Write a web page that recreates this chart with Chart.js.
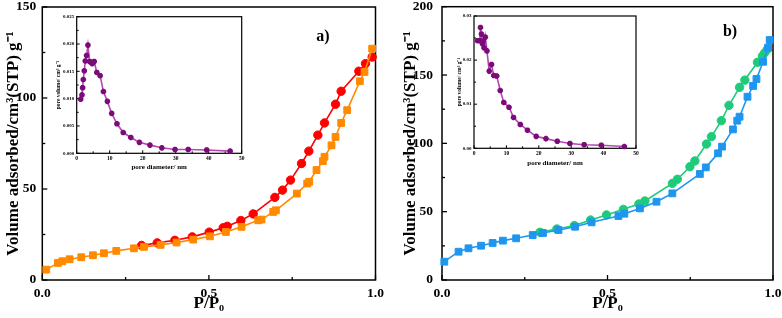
<!DOCTYPE html>
<html>
<head>
<meta charset="utf-8">
<script src="https://cdn.jsdelivr.net/npm/chart.js@4/dist/chart.umd.min.js"></script>
<style>
  html, body { margin: 0; padding: 0; background: #ffffff; overflow: hidden; }
  body { width: 782px; height: 318px; position: relative; }
  canvas { position: absolute; }
</style>
</head>
<body>
<canvas id="mainA" width="390" height="318" style="left:0px;top:0px"></canvas>
<canvas id="mainB" width="390" height="318" style="left:392px;top:0px"></canvas>
<canvas id="insetA" width="200" height="165" style="left:50px;top:10px"></canvas>
<canvas id="insetB" width="200" height="165" style="left:446px;top:10px"></canvas>
<script>
// ---------------- DATA ----------------
// Panel a) isotherm
const aAdsP = [0.012,0.047,0.06,0.082,0.117,0.152,0.185,0.222,0.275,0.305,0.355,0.403,0.453,0.503,0.551,0.598,0.648,0.658,0.693,0.701,0.764,0.795,0.801,0.823,0.842,0.847,0.868,0.88,0.897,0.915,0.953,0.967,0.99];
const aAdsV = [5.7,9.4,10.3,11.4,12.5,13.6,14.7,16.0,17.4,18.2,19.3,20.6,22.2,24.0,26.4,29.2,32.8,33.2,37.4,38.3,47.5,53,54,60.4,65.3,67.7,74,78.6,86.3,93.3,109.2,114.3,127.1];
const aDesP = [0.99,0.97,0.95,0.897,0.88,0.847,0.827,0.8,0.778,0.745,0.721,0.698,0.633,0.596,0.555,0.543,0.501,0.45,0.398,0.345,0.298];
const aDesV = [122.5,118.9,114.7,103.7,96.6,86.3,79.6,70.8,64,54.9,49.4,45.4,36.3,32.7,29.5,28.7,26.3,23.7,21.8,20.4,19.0];
// Panel b) isotherm
const bAdsP = [0.007,0.05,0.08,0.118,0.153,0.184,0.224,0.274,0.305,0.352,0.402,0.452,0.533,0.551,0.598,0.648,0.696,0.779,0.797,0.834,0.846,0.879,0.892,0.899,0.923,0.94,0.95,0.97,0.985,0.99];
const bAdsV = [13.4,20.7,23.2,25.1,27.1,28.8,30.5,32.9,34.4,36.6,39.0,42.2,46.8,48.5,52.4,57.3,63.4,77.6,82.4,92.7,97.6,110.2,116.6,119.5,134.1,142,147.1,159.7,170,175.6];
const bDesP = [0.983,0.975,0.968,0.953,0.915,0.899,0.867,0.844,0.814,0.799,0.764,0.749,0.711,0.696,0.613,0.595,0.548,0.497,0.449,0.4,0.347,0.296];
const bDesV = [168.8,166.3,163.9,159.3,146.3,141,127.8,116.6,104.9,99.5,87.1,82.9,73.7,70.7,57.8,55.6,51.7,47.6,43.9,39.8,37.3,34.9];
// Insets: pore size distribution
const aPoreD = [1.2,1.6,1.8,2.0,2.3,2.6,3.0,3.4,3.9,4.3,4.7,5.3,6.1,7.1,8.1,9.3,10.6,12.2,14.1,16.4,19.0,22.2,25.8,29.8,33.8,39.4,46.5];
const aPoreV = [0.0099,0.0107,0.0120,0.0135,0.0151,0.0169,0.0179,0.0198,0.0168,0.0167,0.0164,0.0168,0.0148,0.0142,0.0113,0.0095,0.0073,0.0054,0.0038,0.0029,0.0020,0.0015,0.0010,0.0007,0.0007,0.0006,0.0004];
const bPoreD = [1.1,1.8,2.0,2.3,2.6,2.8,3.1,3.5,4.0,4.7,5.4,6.1,7.0,8.1,9.2,10.8,12.2,14.3,16.5,19.2,22.2,25.7,29.6,34.0,39.3,46.4];
const bPoreV = [0.0244,0.0244,0.0274,0.0259,0.0237,0.0243,0.0228,0.0252,0.0221,0.0175,0.0190,0.0165,0.0164,0.0131,0.0104,0.0093,0.0070,0.0054,0.0041,0.0027,0.0022,0.0016,0.0011,0.0008,0.0007,0.0004];
// Tick labels
const mainXTicks = [0, 0.5, 1.0];
const aYTicks = [0, 50, 100, 150];
const bYTicks = [0, 50, 100, 150, 200];
const insetXTicks = [0, 10, 20, 30, 40, 50];
const aInsetYTicks = [0, 0.005, 0.010, 0.015, 0.020, 0.025];
const bInsetYTicks = [0, 0.01, 0.02, 0.03];
// Texts
const mainXTitle = 'P/P\u2080';
const mainYTitle = 'Volume adsorbed/cm\u00B3(STP) g\u207B\u00B9';
const insetXTitle = 'pore diameter/ nm';
const insetYTitle = 'pore volume/ cm\u00B3 g\u207B\u00B9';
const panelLabels = ['a)', 'b)'];

// ---------------- HELPERS ----------------
const FONT = "'Liberation Serif', 'Times New Roman', serif";
const pts = (xs, ys) => xs.map((x, i) => ({ x: x, y: ys[i] }));
const fixX = h => s => { s.height = h; s.paddingLeft = 0; s.paddingRight = 0; };
const fixY = w => s => { s.width = w; s.paddingTop = 0; s.paddingBottom = 0; };
const setTicks = arr => s => { s.ticks = arr.map(v => ({ value: v })); };

const framePlugin = {
  id: 'frame',
  beforeDatasetsDraw(chart, args, o) {
    const ca = chart.chartArea, ctx = chart.ctx;
    ctx.save();
    ctx.strokeStyle = '#000';
    ctx.lineWidth = o.lw || 1.5;
    ctx.strokeRect(ca.left, ca.top, ca.right - ca.left, ca.bottom - ca.top);
    const xs = chart.scales.x, ys = chart.scales.y;
    ctx.lineWidth = o.tw || 1.2;
    const xt = xs.ticks.map(t => t.value), yt = ys.ticks.map(t => t.value);
    const drawX = (v, len) => { const p = xs.getPixelForValue(v); ctx.beginPath(); ctx.moveTo(p, ca.bottom); ctx.lineTo(p, ca.bottom - len); ctx.stroke(); };
    const drawY = (v, len) => { const p = ys.getPixelForValue(v); ctx.beginPath(); ctx.moveTo(ca.left, p); ctx.lineTo(ca.left + len, p); ctx.stroke(); };
    xt.forEach((v, i) => { drawX(v, o.major); if (i < xt.length - 1) drawX((v + xt[i + 1]) / 2, o.minor); });
    yt.forEach((v, i) => { drawY(v, o.major); if (i < yt.length - 1) drawY((v + yt[i + 1]) / 2, o.minor); });
    ctx.restore();
  },
  afterDraw(chart, args, o) {
    if (!o.label) return;
    const ctx = chart.ctx;
    ctx.save();
    ctx.font = 'bold 16px ' + FONT;
    ctx.fillStyle = '#000';
    ctx.textAlign = 'center';
    ctx.textBaseline = 'middle';
    ctx.fillText(o.label, o.lx, o.ly);
    ctx.restore();
  }
};

function mainChart(id, cfg) {
  return new Chart(document.getElementById(id), {
    type: 'line',
    data: { datasets: cfg.datasets },
    options: {
      responsive: false,
      animation: false,
      layout: { padding: cfg.padding },
      plugins: {
        legend: { display: false },
        tooltip: { enabled: false },
        frame: { major: 5, minor: 3, lw: 1.5, tw: 1.3, label: cfg.label, lx: cfg.lx, ly: cfg.ly }
      },
      elements: { line: { tension: 0 } },
      scales: {
        x: {
          type: 'linear', min: 0, max: 1,
          afterFit: fixX(38),
          afterBuildTicks: setTicks(mainXTicks),
          grid: { display: false, drawTicks: false },
          border: { display: false },
          ticks: { padding: 5, color: '#000', font: { family: FONT, size: 13.5, weight: 'bold' }, callback: v => Number(v).toFixed(1) },
          title: { display: true, text: mainXTitle, color: '#000', padding: { top: 0, bottom: 4 }, font: { family: FONT, size: 17, weight: 'bold' } }
        },
        y: {
          type: 'linear', min: 0, max: cfg.ymax,
          afterFit: fixY(cfg.yw),
          afterBuildTicks: setTicks(cfg.yticks),
          grid: { display: false, drawTicks: false },
          border: { display: false },
          ticks: { padding: cfg.ypad, color: '#000', font: { family: FONT, size: 13.5, weight: 'bold' } },
          title: { display: true, text: mainYTitle, color: '#000', padding: { top: cfg.ytpad, bottom: 0 }, font: { family: FONT, size: 17, weight: 'bold' } }
        }
      }
    },
    plugins: [framePlugin]
  });
}

function series(xs, ys, color, style, r) {
  return {
    data: pts(xs, ys), borderColor: color, backgroundColor: color,
    borderWidth: 1.6, pointStyle: style, pointRadius: r, pointBorderWidth: 1,
    pointBorderColor: color, pointBackgroundColor: color, clip: false, fill: false
  };
}

mainChart('mainA', {
  padding: { left: 0, right: 14.5, top: 7, bottom: 0 },
  yw: 42.3, ymax: 150, yticks: aYTicks, ypad: 6, ytpad: 3,
  label: panelLabels[0], lx: 323, ly: 37,
  datasets: [
    series(aAdsP, aAdsV, '#FF8A00', 'rect', 4.8),
    series(aDesP, aDesV, '#FF0000', 'circle', 4.2)
  ]
});

mainChart('mainB', {
  padding: { left: 5, right: 9, top: 6.7, bottom: 0 },
  yw: 45, ymax: 200, yticks: bYTicks, ypad: 9, ytpad: 3,
  label: panelLabels[1], lx: 338, ly: 32,
  datasets: [
    series(bAdsP, bAdsV, '#1E96F0', 'rect', 4.8),
    series(bDesP, bDesV, '#1FCB7A', 'circle', 4.2)
  ]
});

function insetChart(id, cfg) {
  return new Chart(document.getElementById(id), {
    type: 'line',
    data: { datasets: [{
      data: pts(cfg.xs, cfg.ys), borderColor: '#B548B5', backgroundColor: '#7A0C7A',
      borderWidth: 1.6, pointStyle: 'star', pointRadius: 2.8, pointBorderWidth: 1.9,
      pointBorderColor: '#7A0C7A', pointBackgroundColor: '#7A0C7A', clip: false, fill: false
    }] },
    options: {
      responsive: false,
      animation: false,
      layout: { padding: cfg.padding },
      plugins: { legend: { display: false }, tooltip: { enabled: false }, frame: { major: 3, minor: 2, lw: 1.2, tw: 1 } },
      elements: { line: { tension: 0 } },
      scales: {
        x: {
          type: 'linear', min: 0, max: 50,
          afterFit: fixX(cfg.xh),
          afterBuildTicks: setTicks(insetXTicks),
          grid: { display: false, drawTicks: false },
          border: { display: false },
          ticks: { padding: 2, color: '#000', font: { family: FONT, size: 5.5, weight: 'bold' } },
          title: { display: true, text: insetXTitle, color: '#000', padding: { top: 0, bottom: cfg.xtpad }, font: { family: FONT, size: 7, weight: 'bold' } }
        },
        y: {
          type: 'linear', min: 0, max: cfg.ymax,
          afterFit: fixY(cfg.yw),
          afterBuildTicks: setTicks(cfg.yticks),
          grid: { display: false, drawTicks: false },
          border: { display: false },
          ticks: { padding: 2.5, color: '#000', font: { family: FONT, size: 5, weight: 'bold' }, callback: v => Number(v).toFixed(cfg.dec) },
          title: { display: true, text: insetYTitle, color: '#000', padding: { top: cfg.ytpad, bottom: 0 }, font: { family: FONT, size: 5.5, weight: 'bold' } }
        }
      }
    },
    plugins: [framePlugin]
  });
}

insetChart('insetA', {
  xs: aPoreD, ys: aPoreV, ymax: 0.025, yticks: aInsetYTicks, dec: 3,
  padding: { left: 0, right: 8.3, top: 6.7, bottom: 0 },
  yw: 26.7, xh: 21.7, xtpad: 4, ytpad: 5
});

insetChart('insetB', {
  xs: bPoreD, ys: bPoreV, ymax: 0.03, yticks: bInsetYTicks, dec: 2,
  padding: { left: 0, right: 10, top: 6, bottom: 0 },
  yw: 28, xh: 26.7, xtpad: 8, ytpad: 10
});
</script>
</body>
</html>
